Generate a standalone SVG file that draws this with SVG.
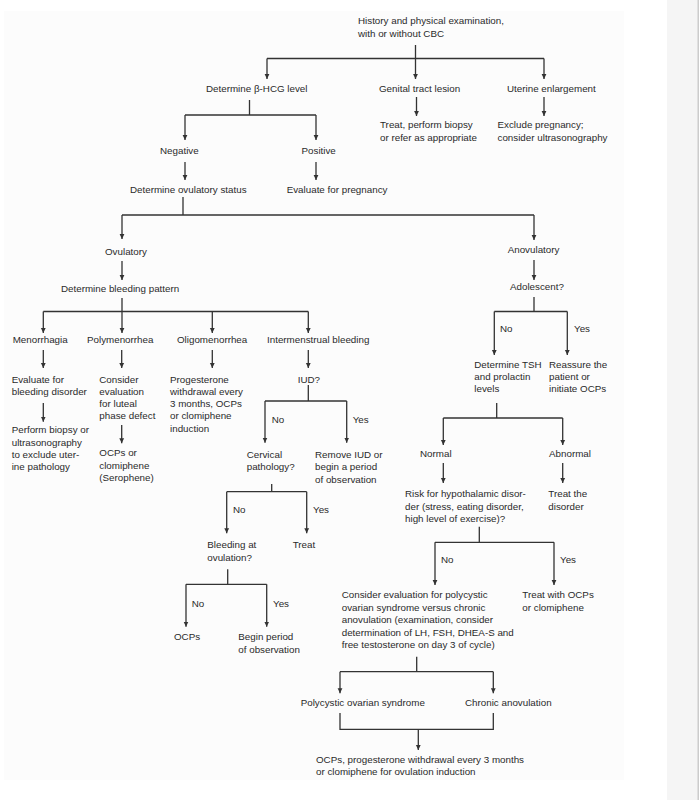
<svg xmlns="http://www.w3.org/2000/svg" width="699" height="800" viewBox="0 0 699 800">
<style>
text{font-family:"Liberation Sans",Arial,sans-serif;font-size:9.8px;fill:#2a2a2a}
.c{fill:none;stroke:#333;stroke-width:1.3}
.a{marker-end:url(#ah)}
</style>
<defs>
<marker id="ah" markerWidth="6" markerHeight="6" refX="5" refY="3" orient="auto" markerUnits="userSpaceOnUse"><path d="M0,0.6 L5,3 L0,5.4 Z" fill="#333"/></marker>
</defs>
<rect x="0" y="0" width="699" height="800" fill="#ffffff"/>
<rect x="4" y="11" width="620" height="769" fill="#fcfcfc"/>
<rect x="667" y="0" width="31" height="800" fill="#f5f5f5"/>
<rect x="697.5" y="0" width="1.5" height="800" fill="#cccccc"/>

<g id="connectors">
<path class="c" d="M415.5,45 V58.5 M267,58.5 H544"/>
<path class="c a" d="M267,58.5 V79"/>
<path class="c a" d="M415.5,58.5 V79"/>
<path class="c a" d="M544,58.5 V79"/>
<path class="c a" d="M416.5,97 V116"/>
<path class="c a" d="M544,97 V116"/>
<path class="c" d="M249.5,100 V115 M185,115 H316"/>
<path class="c a" d="M185,115 V140"/>
<path class="c a" d="M316,115 V140"/>
<path class="c a" d="M185,162 V180"/>
<path class="c a" d="M316,162 V180"/>
<path class="c" d="M183,197 V215 M122,215 H534"/>
<path class="c a" d="M122,215 V239"/>
<path class="c a" d="M534,215 V240"/>
<path class="c a" d="M122,261 V280"/>
<path class="c a" d="M534,260 V280"/>
<path class="c" d="M122,298 V311.5 M43.3,311.5 H308.3"/>
<path class="c a" d="M43.3,311.5 V333"/>
<path class="c a" d="M122,311.5 V333"/>
<path class="c a" d="M212.3,311.5 V333"/>
<path class="c a" d="M308.3,311.5 V333"/>
<path class="c" d="M534,297 V311.5 M494.3,311.5 H567.3"/>
<path class="c a" d="M494.3,311.5 V355"/>
<path class="c a" d="M567.3,311.5 V355"/>
<path class="c a" d="M43.3,350 V368"/>
<path class="c a" d="M121.7,350 V368"/>
<path class="c a" d="M212.3,350 V368"/>
<path class="c a" d="M308.3,350 V368"/>
<path class="c a" d="M43.3,403 V421.7"/>
<path class="c a" d="M121.7,425 V443.3"/>
<path class="c" d="M308.3,385 V401 M265,401 H346.7"/>
<path class="c a" d="M265,401 V442.7"/>
<path class="c a" d="M346.7,401 V442.7"/>
<path class="c" d="M271.7,484 V491.7 M226.7,491.7 H306.7"/>
<path class="c a" d="M226.7,491.7 V533.3"/>
<path class="c a" d="M306.7,491.7 V533.3"/>
<path class="c" d="M227.7,569.3 V584.3 M186,584.3 H266.7"/>
<path class="c a" d="M186,584.3 V626.7"/>
<path class="c a" d="M266.7,584.3 V626.7"/>
<path class="c" d="M496.7,403 V418 M443.3,418 H562.7"/>
<path class="c a" d="M443.3,418 V445"/>
<path class="c a" d="M562.7,418 V445"/>
<path class="c a" d="M443.3,463 V483"/>
<path class="c a" d="M562.7,463 V483"/>
<path class="c" d="M479.3,526.7 V542.3 M435,542.3 H554"/>
<path class="c a" d="M435,542.3 V585"/>
<path class="c a" d="M554,542.3 V585"/>
<path class="c" d="M416.7,656.7 V671.7 M340,671.7 H493.3"/>
<path class="c a" d="M340,671.7 V693.3"/>
<path class="c a" d="M493.3,671.7 V693.3"/>
<path class="c" d="M340,713 V729.3 H493.3 V713"/>
<path class="c a" d="M418.3,729.3 V750"/>
</g>

<g id="labels">
<text x="500" y="332">No</text>
<text x="574" y="332">Yes</text>
<text x="271.7" y="422.5">No</text>
<text x="352.7" y="422.5">Yes</text>
<text x="233" y="513">No</text>
<text x="313" y="513">Yes</text>
<text x="191.7" y="606.5">No</text>
<text x="273" y="606.5">Yes</text>
<text x="441" y="563">No</text>
<text x="560" y="563">Yes</text>
</g>

<g id="history"><text x="358" y="24">History and physical examination,</text><text x="358" y="36.5">with or without CBC</text></g>
<g id="hcg"><text x="206" y="92">Determine β-HCG level</text></g>
<g id="genital"><text x="379" y="92">Genital tract lesion</text></g>
<g id="uterine"><text x="507" y="92">Uterine enlargement</text></g>
<g id="treat-biopsy"><text x="380" y="128">Treat, perform biopsy</text><text x="380" y="140.5">or refer as appropriate</text></g>
<g id="exclude"><text x="497.5" y="128">Exclude pregnancy;</text><text x="497.5" y="140.5">consider ultrasonography</text></g>
<g id="negative"><text x="160" y="154">Negative</text></g>
<g id="positive"><text x="301.5" y="154">Positive</text></g>
<g id="ovstatus"><text x="130" y="193">Determine ovulatory status</text></g>
<g id="evalpreg"><text x="286.7" y="193">Evaluate for pregnancy</text></g>
<g id="ovulatory"><text x="105" y="255">Ovulatory</text></g>
<g id="anovulatory"><text x="507.7" y="253">Anovulatory</text></g>
<g id="bleedpattern"><text x="61" y="292">Determine bleeding pattern</text></g>
<g id="adolescent"><text x="510" y="290">Adolescent?</text></g>
<g id="menorrhagia"><text x="12.7" y="343">Menorrhagia</text></g>
<g id="polymenorrhea"><text x="87" y="343">Polymenorrhea</text></g>
<g id="oligomenorrhea"><text x="177" y="343">Oligomenorrhea</text></g>
<g id="intermenstrual"><text x="267" y="343">Intermenstrual bleeding</text></g>
<g id="evalbleed"><text x="11.7" y="382.5">Evaluate for</text><text x="11.7" y="394.5">bleeding disorder</text></g>
<g id="biopsy"><text x="11.7" y="433">Perform biopsy or</text><text x="11.7" y="445.5">ultrasonography</text><text x="11.7" y="457.5">to exclude uter-</text><text x="11.7" y="470">ine pathology</text></g>
<g id="luteal"><text x="99.3" y="382.5">Consider</text><text x="99.3" y="394.5">evaluation</text><text x="99.3" y="406.5">for luteal</text><text x="99.3" y="419">phase defect</text></g>
<g id="ocps-clomid"><text x="99.3" y="456">OCPs or</text><text x="99.3" y="468.5">clomiphene</text><text x="99.3" y="480.5">(Serophene)</text></g>
<g id="progesterone"><text x="170" y="382.5">Progesterone</text><text x="170" y="394.5">withdrawal every</text><text x="170" y="406.5">3 months, OCPs</text><text x="170" y="419">or clomiphene</text><text x="170" y="431.5">induction</text></g>
<g id="iud"><text x="297.7" y="382.5">IUD?</text></g>
<g id="cervical"><text x="246.7" y="458">Cervical</text><text x="246.7" y="470">pathology?</text></g>
<g id="removeiud"><text x="315" y="458">Remove IUD or</text><text x="315" y="470">begin a period</text><text x="315" y="482.5">of observation</text></g>
<g id="bleedovul"><text x="207.3" y="547.5">Bleeding at</text><text x="207.3" y="560.5">ovulation?</text></g>
<g id="treat"><text x="292.7" y="547.5">Treat</text></g>
<g id="ocps"><text x="174" y="640">OCPs</text></g>
<g id="beginperiod"><text x="238.3" y="640">Begin period</text><text x="238.3" y="653">of observation</text></g>
<g id="tsh"><text x="474.3" y="367.5">Determine TSH</text><text x="474.3" y="380">and prolactin</text><text x="474.3" y="392">levels</text></g>
<g id="reassure"><text x="549" y="367.5">Reassure the</text><text x="549" y="380">patient or</text><text x="549" y="392">initiate OCPs</text></g>
<g id="normal"><text x="420" y="457">Normal</text></g>
<g id="abnormal"><text x="549" y="457">Abnormal</text></g>
<g id="risk"><text x="405" y="497">Risk for hypothalamic disor-</text><text x="405" y="510">der (stress, eating disorder,</text><text x="405" y="521.5">high level of exercise)?</text></g>
<g id="treatdisorder"><text x="548.3" y="497">Treat the</text><text x="548.3" y="510">disorder</text></g>
<g id="pcos-eval"><text x="341.7" y="598">Consider evaluation for polycystic</text><text x="341.7" y="611">ovarian syndrome versus chronic</text><text x="341.7" y="623">anovulation (examination, consider</text><text x="341.7" y="636">determination of LH, FSH, DHEA-S and</text><text x="341.7" y="648">free testosterone on day 3 of cycle)</text></g>
<g id="treatocps"><text x="522.3" y="598">Treat with OCPs</text><text x="522.3" y="611">or clomiphene</text></g>
<g id="pcos"><text x="300.7" y="706">Polycystic ovarian syndrome</text></g>
<g id="chronic"><text x="465" y="706">Chronic anovulation</text></g>
<g id="final"><text x="316" y="762.5">OCPs, progesterone withdrawal every 3 months</text><text x="316" y="775">or clomiphene for ovulation induction</text></g>
</svg>
